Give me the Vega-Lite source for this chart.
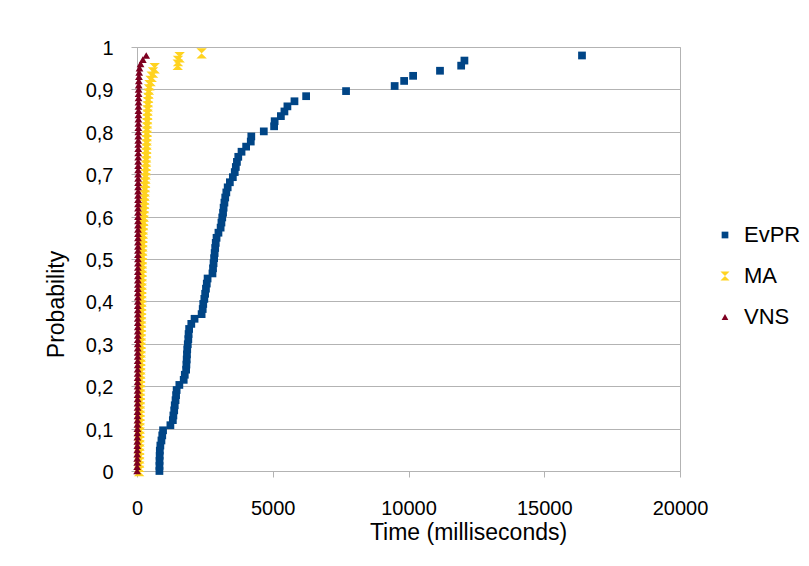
{
  "$schema": "https://vega.github.io/schema/vega-lite/v6.json",
  "width": 543,
  "height": 424,
  "autosize": {"type": "none"},
  "padding": {"left": 137, "top": 47, "right": 129, "bottom": 95},
  "background": "white",
  "config": {
    "font": "Liberation Sans",
    "view": {"stroke": "#b3b3b3", "strokeWidth": 1},
    "axis": {"labelFont": "Liberation Sans", "titleFont": "Liberation Sans", "labelColor": "#000000", "titleColor": "#000000", "titleFontWeight": "normal", "domainColor": "#b3b3b3", "tickColor": "#b3b3b3", "gridColor": "#b3b3b3", "tickSize": 6, "labelFontSize": 20, "titleFontSize": 23},
    "legend": {"labelFont": "Liberation Sans", "labelColor": "#000000"}
  },
  "data": {"values": [
    {"series":"EvPR","time":826,"probability":0},
    {"series":"EvPR","time":828,"probability":0.012},
    {"series":"EvPR","time":830,"probability":0.024},
    {"series":"EvPR","time":835,"probability":0.036},
    {"series":"EvPR","time":840,"probability":0.048},
    {"series":"EvPR","time":860,"probability":0.060},
    {"series":"EvPR","time":900,"probability":0.072},
    {"series":"EvPR","time":930,"probability":0.084},
    {"series":"EvPR","time":960,"probability":0.096},
    {"series":"EvPR","time":1230,"probability":0.108},
    {"series":"EvPR","time":1320,"probability":0.120},
    {"series":"EvPR","time":1340,"probability":0.131},
    {"series":"EvPR","time":1370,"probability":0.143},
    {"series":"EvPR","time":1390,"probability":0.155},
    {"series":"EvPR","time":1420,"probability":0.167},
    {"series":"EvPR","time":1440,"probability":0.179},
    {"series":"EvPR","time":1460,"probability":0.191},
    {"series":"EvPR","time":1560,"probability":0.203},
    {"series":"EvPR","time":1720,"probability":0.215},
    {"series":"EvPR","time":1760,"probability":0.227},
    {"series":"EvPR","time":1810,"probability":0.239},
    {"series":"EvPR","time":1820,"probability":0.251},
    {"series":"EvPR","time":1830,"probability":0.263},
    {"series":"EvPR","time":1840,"probability":0.275},
    {"series":"EvPR","time":1850,"probability":0.287},
    {"series":"EvPR","time":1870,"probability":0.299},
    {"series":"EvPR","time":1890,"probability":0.311},
    {"series":"EvPR","time":1900,"probability":0.323},
    {"series":"EvPR","time":1920,"probability":0.335},
    {"series":"EvPR","time":2000,"probability":0.347},
    {"series":"EvPR","time":2120,"probability":0.359},
    {"series":"EvPR","time":2380,"probability":0.370},
    {"series":"EvPR","time":2420,"probability":0.382},
    {"series":"EvPR","time":2440,"probability":0.394},
    {"series":"EvPR","time":2480,"probability":0.406},
    {"series":"EvPR","time":2510,"probability":0.418},
    {"series":"EvPR","time":2540,"probability":0.430},
    {"series":"EvPR","time":2570,"probability":0.442},
    {"series":"EvPR","time":2600,"probability":0.454},
    {"series":"EvPR","time":2780,"probability":0.466},
    {"series":"EvPR","time":2800,"probability":0.478},
    {"series":"EvPR","time":2820,"probability":0.490},
    {"series":"EvPR","time":2840,"probability":0.502},
    {"series":"EvPR","time":2860,"probability":0.514},
    {"series":"EvPR","time":2880,"probability":0.526},
    {"series":"EvPR","time":2900,"probability":0.538},
    {"series":"EvPR","time":2930,"probability":0.550},
    {"series":"EvPR","time":3000,"probability":0.562},
    {"series":"EvPR","time":3080,"probability":0.574},
    {"series":"EvPR","time":3110,"probability":0.586},
    {"series":"EvPR","time":3140,"probability":0.598},
    {"series":"EvPR","time":3170,"probability":0.609},
    {"series":"EvPR","time":3190,"probability":0.621},
    {"series":"EvPR","time":3220,"probability":0.633},
    {"series":"EvPR","time":3250,"probability":0.645},
    {"series":"EvPR","time":3290,"probability":0.657},
    {"series":"EvPR","time":3340,"probability":0.669},
    {"series":"EvPR","time":3420,"probability":0.681},
    {"series":"EvPR","time":3530,"probability":0.693},
    {"series":"EvPR","time":3600,"probability":0.705},
    {"series":"EvPR","time":3640,"probability":0.717},
    {"series":"EvPR","time":3680,"probability":0.729},
    {"series":"EvPR","time":3730,"probability":0.741},
    {"series":"EvPR","time":3850,"probability":0.753},
    {"series":"EvPR","time":4020,"probability":0.765},
    {"series":"EvPR","time":4190,"probability":0.777},
    {"series":"EvPR","time":4210,"probability":0.789},
    {"series":"EvPR","time":4670,"probability":0.801},
    {"series":"EvPR","time":5050,"probability":0.813},
    {"series":"EvPR","time":5070,"probability":0.825},
    {"series":"EvPR","time":5300,"probability":0.837},
    {"series":"EvPR","time":5430,"probability":0.848},
    {"series":"EvPR","time":5540,"probability":0.860},
    {"series":"EvPR","time":5800,"probability":0.872},
    {"series":"EvPR","time":6230,"probability":0.884},
    {"series":"EvPR","time":7700,"probability":0.896},
    {"series":"EvPR","time":9490,"probability":0.908},
    {"series":"EvPR","time":9840,"probability":0.920},
    {"series":"EvPR","time":10170,"probability":0.932},
    {"series":"EvPR","time":11160,"probability":0.944},
    {"series":"EvPR","time":11940,"probability":0.956},
    {"series":"EvPR","time":12060,"probability":0.968},
    {"series":"EvPR","time":16390,"probability":0.980},
    {"series":"MA","time":80,"probability":0},
    {"series":"MA","time":82,"probability":0.01},
    {"series":"MA","time":84,"probability":0.02},
    {"series":"MA","time":86,"probability":0.03},
    {"series":"MA","time":88,"probability":0.04},
    {"series":"MA","time":90,"probability":0.05},
    {"series":"MA","time":92,"probability":0.06},
    {"series":"MA","time":94,"probability":0.07},
    {"series":"MA","time":96,"probability":0.08},
    {"series":"MA","time":98,"probability":0.09},
    {"series":"MA","time":100,"probability":0.10},
    {"series":"MA","time":102,"probability":0.11},
    {"series":"MA","time":104,"probability":0.12},
    {"series":"MA","time":106,"probability":0.13},
    {"series":"MA","time":108,"probability":0.14},
    {"series":"MA","time":110,"probability":0.15},
    {"series":"MA","time":112,"probability":0.16},
    {"series":"MA","time":114,"probability":0.17},
    {"series":"MA","time":116,"probability":0.18},
    {"series":"MA","time":118,"probability":0.19},
    {"series":"MA","time":120,"probability":0.20},
    {"series":"MA","time":122,"probability":0.21},
    {"series":"MA","time":124,"probability":0.22},
    {"series":"MA","time":126,"probability":0.23},
    {"series":"MA","time":128,"probability":0.24},
    {"series":"MA","time":130,"probability":0.25},
    {"series":"MA","time":133,"probability":0.26},
    {"series":"MA","time":136,"probability":0.27},
    {"series":"MA","time":139,"probability":0.28},
    {"series":"MA","time":142,"probability":0.29},
    {"series":"MA","time":145,"probability":0.30},
    {"series":"MA","time":147,"probability":0.31},
    {"series":"MA","time":149,"probability":0.32},
    {"series":"MA","time":151,"probability":0.33},
    {"series":"MA","time":153,"probability":0.34},
    {"series":"MA","time":155,"probability":0.35},
    {"series":"MA","time":157,"probability":0.36},
    {"series":"MA","time":159,"probability":0.37},
    {"series":"MA","time":161,"probability":0.38},
    {"series":"MA","time":163,"probability":0.39},
    {"series":"MA","time":165,"probability":0.40},
    {"series":"MA","time":167,"probability":0.41},
    {"series":"MA","time":169,"probability":0.42},
    {"series":"MA","time":171,"probability":0.43},
    {"series":"MA","time":173,"probability":0.44},
    {"series":"MA","time":175,"probability":0.45},
    {"series":"MA","time":178,"probability":0.46},
    {"series":"MA","time":181,"probability":0.47},
    {"series":"MA","time":184,"probability":0.48},
    {"series":"MA","time":187,"probability":0.49},
    {"series":"MA","time":190,"probability":0.50},
    {"series":"MA","time":194,"probability":0.51},
    {"series":"MA","time":198,"probability":0.52},
    {"series":"MA","time":202,"probability":0.53},
    {"series":"MA","time":206,"probability":0.54},
    {"series":"MA","time":210,"probability":0.55},
    {"series":"MA","time":216,"probability":0.56},
    {"series":"MA","time":222,"probability":0.57},
    {"series":"MA","time":230,"probability":0.58},
    {"series":"MA","time":240,"probability":0.59},
    {"series":"MA","time":250,"probability":0.60},
    {"series":"MA","time":256,"probability":0.61},
    {"series":"MA","time":262,"probability":0.62},
    {"series":"MA","time":268,"probability":0.63},
    {"series":"MA","time":274,"probability":0.64},
    {"series":"MA","time":280,"probability":0.65},
    {"series":"MA","time":288,"probability":0.66},
    {"series":"MA","time":296,"probability":0.67},
    {"series":"MA","time":304,"probability":0.68},
    {"series":"MA","time":312,"probability":0.69},
    {"series":"MA","time":320,"probability":0.70},
    {"series":"MA","time":325,"probability":0.71},
    {"series":"MA","time":330,"probability":0.72},
    {"series":"MA","time":335,"probability":0.73},
    {"series":"MA","time":340,"probability":0.74},
    {"series":"MA","time":345,"probability":0.75},
    {"series":"MA","time":349,"probability":0.76},
    {"series":"MA","time":353,"probability":0.77},
    {"series":"MA","time":357,"probability":0.78},
    {"series":"MA","time":361,"probability":0.79},
    {"series":"MA","time":365,"probability":0.80},
    {"series":"MA","time":370,"probability":0.81},
    {"series":"MA","time":375,"probability":0.82},
    {"series":"MA","time":380,"probability":0.83},
    {"series":"MA","time":385,"probability":0.84},
    {"series":"MA","time":390,"probability":0.85},
    {"series":"MA","time":398,"probability":0.86},
    {"series":"MA","time":406,"probability":0.87},
    {"series":"MA","time":414,"probability":0.88},
    {"series":"MA","time":425,"probability":0.89},
    {"series":"MA","time":440,"probability":0.90},
    {"series":"MA","time":460,"probability":0.91},
    {"series":"MA","time":500,"probability":0.92},
    {"series":"MA","time":540,"probability":0.93},
    {"series":"MA","time":590,"probability":0.94},
    {"series":"MA","time":650,"probability":0.95},
    {"series":"MA","time":1500,"probability":0.958},
    {"series":"MA","time":1510,"probability":0.967},
    {"series":"MA","time":1570,"probability":0.976},
    {"series":"MA","time":2380,"probability":0.985},
    {"series":"VNS","time":5,"probability":0},
    {"series":"VNS","time":6,"probability":0.01},
    {"series":"VNS","time":7,"probability":0.02},
    {"series":"VNS","time":8,"probability":0.03},
    {"series":"VNS","time":9,"probability":0.04},
    {"series":"VNS","time":10,"probability":0.05},
    {"series":"VNS","time":11,"probability":0.06},
    {"series":"VNS","time":12,"probability":0.07},
    {"series":"VNS","time":13,"probability":0.08},
    {"series":"VNS","time":14,"probability":0.09},
    {"series":"VNS","time":15,"probability":0.10},
    {"series":"VNS","time":16,"probability":0.11},
    {"series":"VNS","time":17,"probability":0.12},
    {"series":"VNS","time":18,"probability":0.13},
    {"series":"VNS","time":19,"probability":0.14},
    {"series":"VNS","time":20,"probability":0.15},
    {"series":"VNS","time":20,"probability":0.16},
    {"series":"VNS","time":21,"probability":0.17},
    {"series":"VNS","time":21,"probability":0.18},
    {"series":"VNS","time":22,"probability":0.19},
    {"series":"VNS","time":22,"probability":0.20},
    {"series":"VNS","time":23,"probability":0.21},
    {"series":"VNS","time":23,"probability":0.22},
    {"series":"VNS","time":24,"probability":0.23},
    {"series":"VNS","time":24,"probability":0.24},
    {"series":"VNS","time":25,"probability":0.25},
    {"series":"VNS","time":25,"probability":0.26},
    {"series":"VNS","time":26,"probability":0.27},
    {"series":"VNS","time":26,"probability":0.28},
    {"series":"VNS","time":27,"probability":0.29},
    {"series":"VNS","time":27,"probability":0.30},
    {"series":"VNS","time":28,"probability":0.31},
    {"series":"VNS","time":28,"probability":0.32},
    {"series":"VNS","time":28,"probability":0.33},
    {"series":"VNS","time":29,"probability":0.34},
    {"series":"VNS","time":29,"probability":0.35},
    {"series":"VNS","time":29,"probability":0.36},
    {"series":"VNS","time":30,"probability":0.37},
    {"series":"VNS","time":30,"probability":0.38},
    {"series":"VNS","time":30,"probability":0.39},
    {"series":"VNS","time":31,"probability":0.40},
    {"series":"VNS","time":31,"probability":0.41},
    {"series":"VNS","time":31,"probability":0.42},
    {"series":"VNS","time":32,"probability":0.43},
    {"series":"VNS","time":32,"probability":0.44},
    {"series":"VNS","time":32,"probability":0.45},
    {"series":"VNS","time":33,"probability":0.46},
    {"series":"VNS","time":33,"probability":0.47},
    {"series":"VNS","time":33,"probability":0.48},
    {"series":"VNS","time":34,"probability":0.49},
    {"series":"VNS","time":34,"probability":0.50},
    {"series":"VNS","time":34,"probability":0.51},
    {"series":"VNS","time":35,"probability":0.52},
    {"series":"VNS","time":35,"probability":0.53},
    {"series":"VNS","time":35,"probability":0.54},
    {"series":"VNS","time":36,"probability":0.55},
    {"series":"VNS","time":36,"probability":0.56},
    {"series":"VNS","time":36,"probability":0.57},
    {"series":"VNS","time":37,"probability":0.58},
    {"series":"VNS","time":37,"probability":0.59},
    {"series":"VNS","time":37,"probability":0.60},
    {"series":"VNS","time":38,"probability":0.61},
    {"series":"VNS","time":38,"probability":0.62},
    {"series":"VNS","time":38,"probability":0.63},
    {"series":"VNS","time":39,"probability":0.64},
    {"series":"VNS","time":39,"probability":0.65},
    {"series":"VNS","time":39,"probability":0.66},
    {"series":"VNS","time":40,"probability":0.67},
    {"series":"VNS","time":40,"probability":0.68},
    {"series":"VNS","time":41,"probability":0.69},
    {"series":"VNS","time":41,"probability":0.70},
    {"series":"VNS","time":42,"probability":0.71},
    {"series":"VNS","time":42,"probability":0.72},
    {"series":"VNS","time":43,"probability":0.73},
    {"series":"VNS","time":43,"probability":0.74},
    {"series":"VNS","time":44,"probability":0.75},
    {"series":"VNS","time":44,"probability":0.76},
    {"series":"VNS","time":45,"probability":0.77},
    {"series":"VNS","time":46,"probability":0.78},
    {"series":"VNS","time":47,"probability":0.79},
    {"series":"VNS","time":48,"probability":0.80},
    {"series":"VNS","time":49,"probability":0.81},
    {"series":"VNS","time":50,"probability":0.82},
    {"series":"VNS","time":51,"probability":0.83},
    {"series":"VNS","time":52,"probability":0.84},
    {"series":"VNS","time":53,"probability":0.85},
    {"series":"VNS","time":54,"probability":0.86},
    {"series":"VNS","time":55,"probability":0.87},
    {"series":"VNS","time":56,"probability":0.88},
    {"series":"VNS","time":58,"probability":0.89},
    {"series":"VNS","time":60,"probability":0.90},
    {"series":"VNS","time":63,"probability":0.91},
    {"series":"VNS","time":67,"probability":0.92},
    {"series":"VNS","time":72,"probability":0.93},
    {"series":"VNS","time":80,"probability":0.94},
    {"series":"VNS","time":92,"probability":0.95},
    {"series":"VNS","time":130,"probability":0.96},
    {"series":"VNS","time":215,"probability":0.97},
    {"series":"VNS","time":340,"probability":0.98}
  ]},
  "mark": {"type": "point", "filled": true, "opacity": 1, "size": 60},
  "encoding": {
    "x": {
      "field": "time", "type": "quantitative",
      "scale": {"domain": [0, 20000], "nice": false, "zero": false},
      "axis": {"title": "Time (milliseconds)", "values": [0, 5000, 10000, 15000, 20000], "format": "d", "grid": false, "labelPadding": 21, "labelFlush": false, "titleX": 331, "titleY": 68, "titleBaseline": "alphabetic", "titleAnchor": null, "titleAlign": "center"}
    },
    "y": {
      "field": "probability", "type": "quantitative",
      "scale": {"domain": [0, 1], "nice": false},
      "axis": {"title": "Probability", "values": [0, 0.1, 0.2, 0.3, 0.4, 0.5, 0.6, 0.7, 0.8, 0.9, 1], "labelExpr": "replace(format(datum.value, '~g'), '.', ',')", "grid": true, "labelPadding": 18, "labelFlush": false, "labelOffset": 1.5, "titleX": -74, "titleY": 257, "titleAngle": 270, "titleBaseline": "alphabetic", "titleAlign": "center", "titleAnchor": null}
    },
    "color": {
      "field": "series", "type": "nominal",
      "scale": {"domain": ["EvPR", "MA", "VNS"], "range": ["#004586", "#ffd320", "#7e0021"]},
      "legend": {"title": null, "orient": "none", "legendX": 577, "legendY": 177, "labelFontSize": 22, "symbolSize": 45, "rowPadding": 19, "labelOffset": 8}
    },
    "shape": {
      "field": "series", "type": "nominal",
      "scale": {"domain": ["EvPR", "MA", "VNS"], "range": ["square", "M-1.35,-1.35L1.35,-1.35L-1.35,1.35L1.35,1.35Z", "triangle-up"]},
      "legend": {"title": null, "orient": "none", "legendX": 577, "legendY": 177, "labelFontSize": 22, "symbolSize": 45, "rowPadding": 19, "labelOffset": 8}
    }
  }
}
